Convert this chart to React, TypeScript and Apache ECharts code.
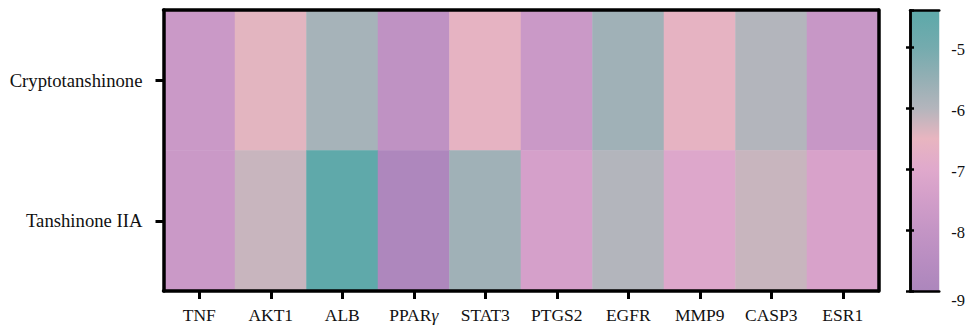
import React, { useEffect, useRef } from "react";
import * as echarts from "echarts";

const genes = ["TNF", "AKT1", "ALB", "PPARγ", "STAT3", "PTGS2", "EGFR", "MMP9", "CASP3", "ESR1"];
const compounds = ["Cryptotanshinone", "Tanshinone IIA"];
const cryptotanshinone = [-7.8, -6.45, -5.8, -8.2, -6.6, -7.8, -5.7, -6.6, -6.0, -7.9];
const tanshinoneIIA = [-7.8, -6.2, -4.4, -8.9, -5.7, -7.4, -6.0, -7.1, -6.2, -7.3];

const scaleValues = [-9, -8.5, -8, -7.5, -7, -6.5, -6, -5.5, -5, -4.5, -4];
const scaleColors = [
  "#ac86bc", "#b88dc1", "#c495c5", "#d29ec9", "#e0a9cc", "#e8b5c0",
  "#b3b5bc", "#93afb4", "#74abae", "#60a9aa", "#5aa8a9",
];
const legendMin = -9;
const legendMax = -4.4;
const legendStep = 1;

const FONT = "'Liberation Serif', 'Times New Roman', serif";

export default function App() {
  const ref = useRef<HTMLDivElement>(null);
  useEffect(() => {
    if (!ref.current) return;
    const chart = echarts.init(ref.current, null, { renderer: "svg" });
    const rows = [cryptotanshinone, tanshinoneIIA];
    const data: number[][] = [];
    rows.forEach((r, yi) => r.forEach((v, xi) => data.push([xi, yi, v])));

    const span = legendMax - legendMin;
    const stops: { offset: number; color: string }[] = [];
    scaleValues.forEach((v, i) => {
      const o = (v - legendMin) / span;
      if (o <= 1) stops.push({ offset: o, color: scaleColors[i] });
    });
    if (stops[stops.length - 1].offset < 1) {
      stops.push({ offset: 1, color: stops[stops.length - 1].color });
    }

    const lineStyle = { color: "#000", width: 3.5 };
    const cbLine = { color: "#000", width: 2.5 };
    const textStyle = { fontFamily: FONT, color: "#111", fontSize: 17.5 };
    const tick = { show: true, alignWithLabel: true, length: 8, lineStyle: { width: 3, color: "#000" } };
    const cbTick = { show: true, inside: true, length: 4, lineStyle: { width: 2.5, color: "#000" } };

    chart.setOption({
      animation: false,
      grid: [
        { left: 163.5, right: 89.5, top: 10, bottom: 40 },
        { left: 910, width: 30, top: 10.5, bottom: 40 },
      ],
      visualMap: {
        type: "continuous",
        show: false,
        min: scaleValues[0],
        max: scaleValues[scaleValues.length - 1],
        dimension: 2,
        seriesIndex: 0,
        inRange: { color: scaleColors },
      },
      xAxis: [
        {
          type: "category",
          gridIndex: 0,
          data: genes,
          z: 5,
          axisLine: { show: true, lineStyle },
          axisTick: tick,
          axisLabel: {
            ...textStyle,
            interval: 0,
            margin: 15,
            formatter: (v: string) => (v === "PPARγ" ? "{n|PPAR}{g|γ}" : v),
            rich: {
              n: { ...textStyle },
              g: { ...textStyle, fontStyle: "italic" },
            },
          },
          splitLine: { show: false },
        },
        {
          type: "category",
          gridIndex: 0,
          data: genes,
          position: "top",
          z: 5,
          axisLine: { show: true, lineStyle },
          axisTick: { show: false },
          axisLabel: { show: false },
        },
        {
          type: "value",
          gridIndex: 1,
          min: 0,
          max: 1,
          z: 5,
          axisLine: { show: true, lineStyle: cbLine },
          axisTick: { show: false },
          axisLabel: { show: false },
          splitLine: { show: false },
        },
        {
          type: "value",
          gridIndex: 1,
          min: 0,
          max: 1,
          position: "top",
          z: 5,
          axisLine: { show: true, lineStyle: cbLine },
          axisTick: { show: false },
          axisLabel: { show: false },
          splitLine: { show: false },
        },
      ],
      yAxis: [
        {
          type: "category",
          gridIndex: 0,
          data: compounds,
          inverse: true,
          z: 5,
          axisLine: { show: true, lineStyle },
          axisTick: tick,
          axisLabel: { ...textStyle, fontSize: 18.7, margin: 21 },
          splitLine: { show: false },
        },
        {
          type: "category",
          gridIndex: 0,
          data: compounds,
          inverse: true,
          position: "right",
          z: 5,
          axisLine: { show: true, lineStyle },
          axisTick: { show: false },
          axisLabel: { show: false },
        },
        {
          type: "value",
          gridIndex: 1,
          min: legendMin,
          max: legendMax,
          interval: legendStep,
          position: "left",
          z: 5,
          axisLine: { show: true, lineStyle: cbLine },
          axisTick: cbTick,
          axisLabel: { show: false },
          splitLine: { show: false },
        },
        {
          type: "value",
          gridIndex: 1,
          min: legendMin,
          max: legendMax,
          interval: legendStep,
          position: "right",
          z: 5,
          axisLine: { show: true, lineStyle: cbLine },
          axisTick: cbTick,
          axisLabel: {
            ...textStyle,
            fontSize: 16.5,
            margin: 12,
            showMaxLabel: false,
            showMinLabel: true,
            formatter: (v: number) => (v === legendMin ? "{low|" + v + "}" : "{n|" + v + "}"),
            rich: {
              n: { ...textStyle, fontSize: 16.5, padding: [4, 0, 0, 0] },
              low: { ...textStyle, fontSize: 16.5, padding: [18, 0, 0, 0] },
            },
          },
          splitLine: { show: false },
        },
      ],
      series: [
        {
          type: "heatmap",
          xAxisIndex: 0,
          yAxisIndex: 0,
          data,
          itemStyle: { borderWidth: 0 },
          emphasis: { disabled: true },
        },
        {
          type: "custom",
          xAxisIndex: 2,
          yAxisIndex: 3,
          data: [[0, legendMin, 1, legendMax]],
          renderItem: (_params: any, api: any) => {
            const p0 = api.coord([api.value(0), api.value(1)]);
            const p1 = api.coord([api.value(2), api.value(3)]);
            return {
              type: "rect",
              shape: { x: p0[0], y: p1[1], width: p1[0] - p0[0], height: p0[1] - p1[1] },
              style: { fill: new echarts.graphic.LinearGradient(0, 1, 0, 0, stops) },
            };
          },
        },
      ],
    });
    return () => chart.dispose();
  }, []);
  return (
    <div
      ref={ref}
      style={{ position: "absolute", left: 0, top: 0, width: 968, height: 331 }}
    />
  );
}
